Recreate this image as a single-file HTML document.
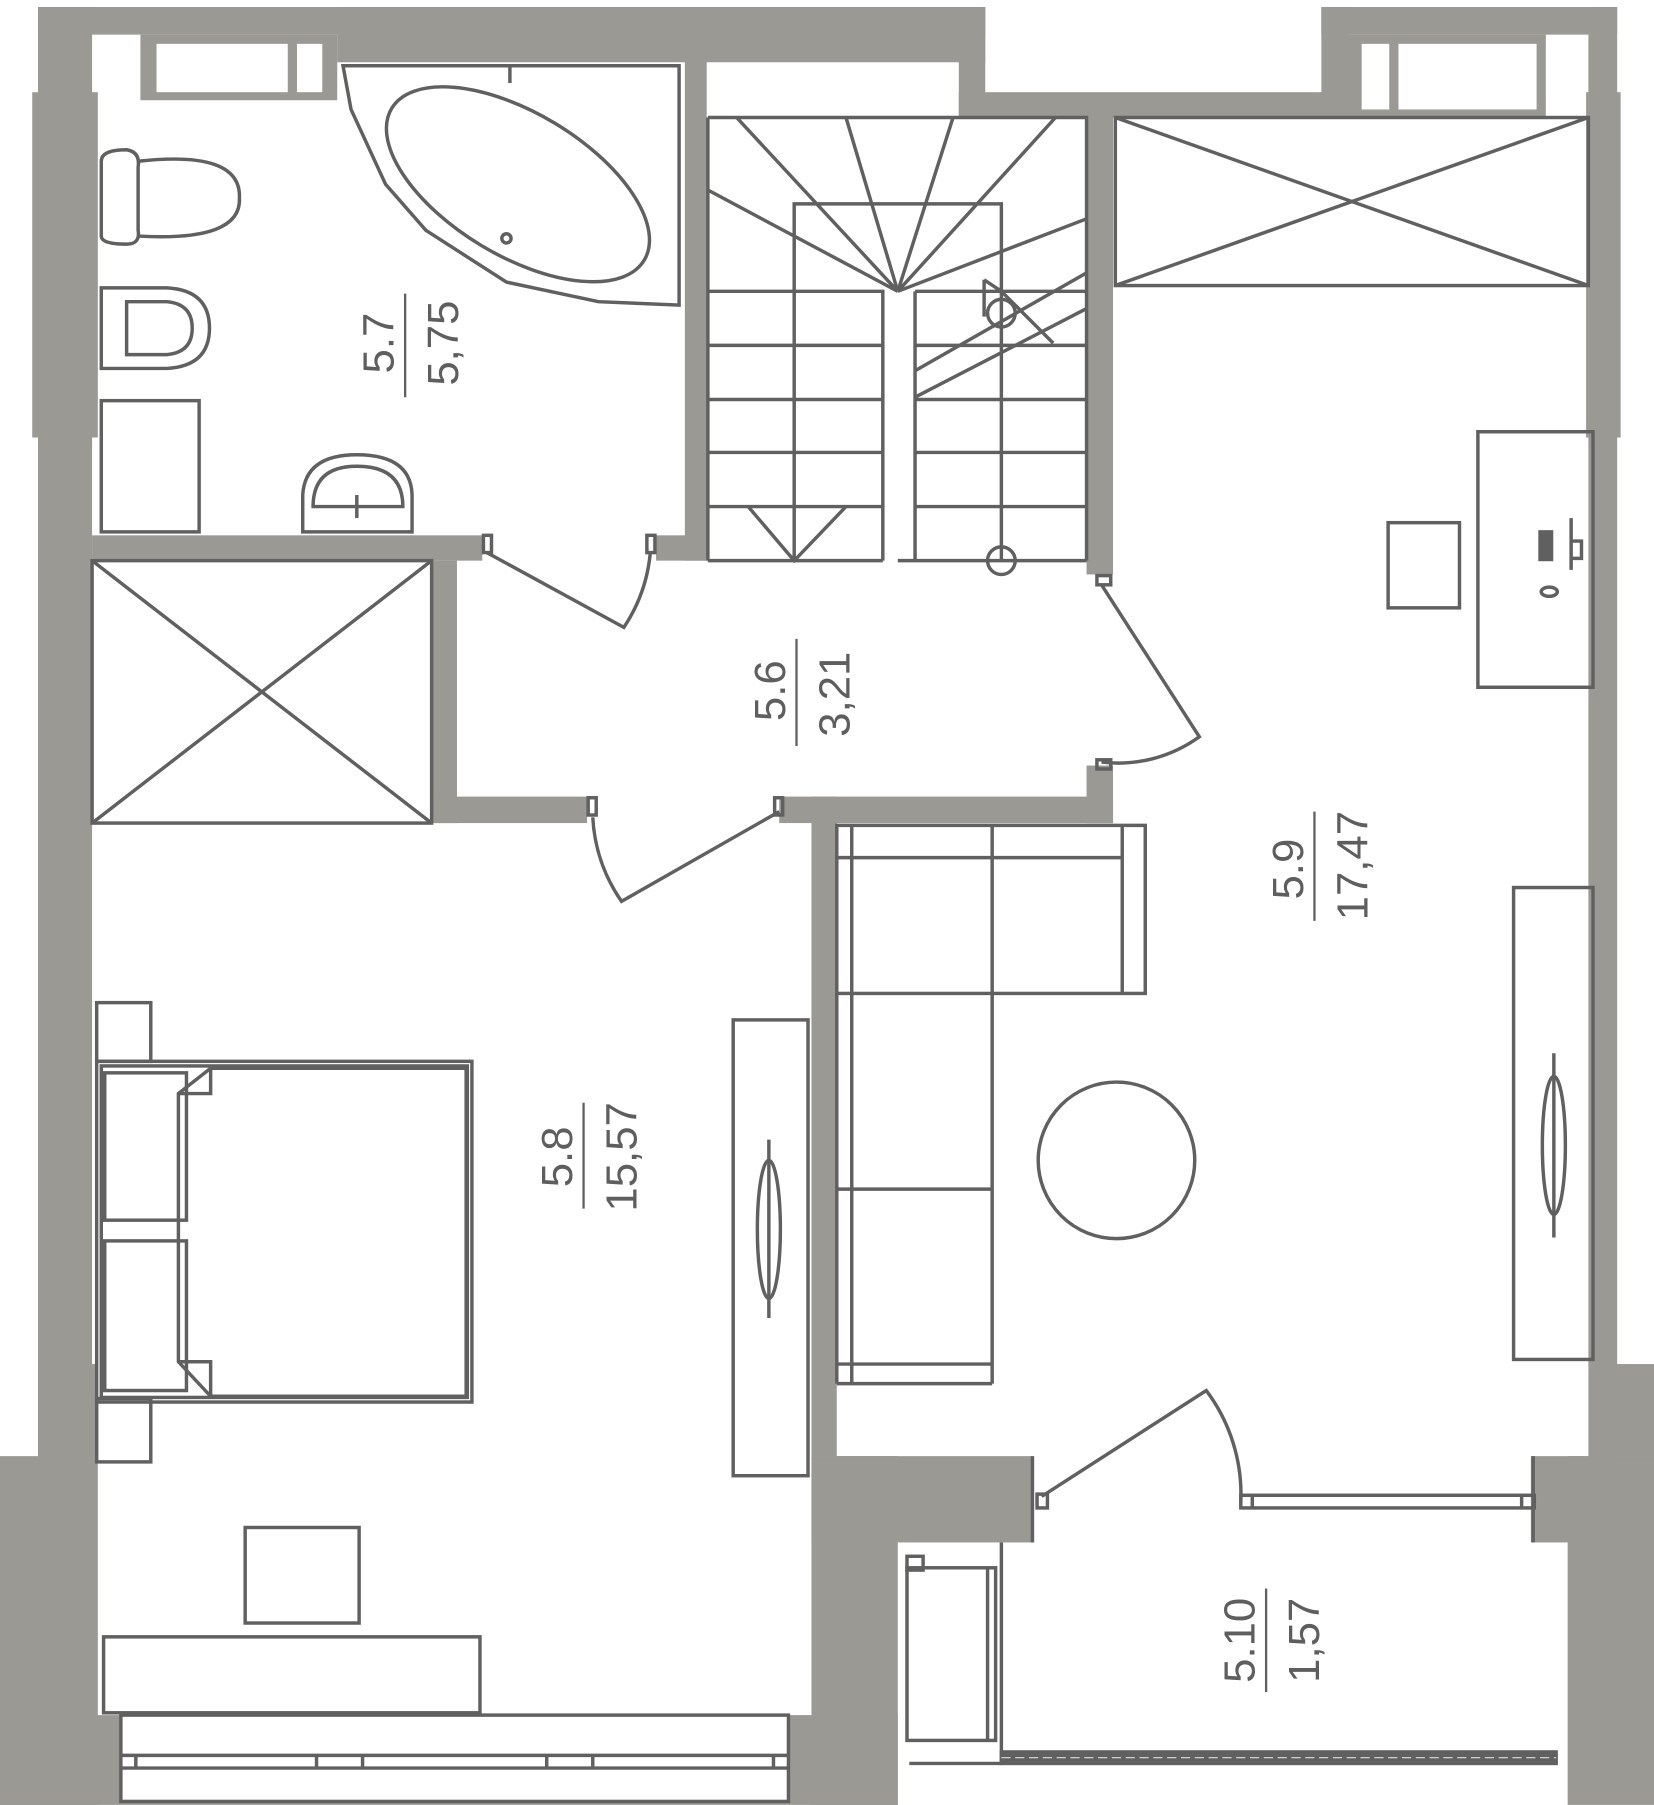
<!DOCTYPE html>
<html><head><meta charset="utf-8"><style>
html,body{margin:0;padding:0;background:#fff}
svg{display:block}
text{font-family:"Liberation Sans",sans-serif;fill:#5e5e5e;font-size:38px}
</style></head><body>
<svg width="1654" height="1805" viewBox="0 0 1437 1568" xmlns="http://www.w3.org/2000/svg">
<g fill="#9a9994">
<rect x="33" y="6" width="823" height="24"/>
<rect x="293" y="6" width="563" height="48"/>
<rect x="833" y="6" width="23" height="96"/>
<rect x="833" y="80" width="339" height="22"/>
<rect x="1148" y="6" width="257" height="24"/>
<rect x="1148" y="6" width="24" height="96"/>
<rect x="1380" y="6" width="25" height="1260"/>
<rect x="1378" y="80" width="30" height="300"/>
<rect x="1382" y="1185" width="55" height="80"/>
<rect x="1330" y="1265" width="107" height="75"/>
<rect x="1362" y="1265" width="75" height="303"/>
<rect x="33" y="6" width="47" height="1562"/>
<rect x="28" y="80" width="57" height="300"/>
<rect x="33" y="1185" width="52" height="383"/>
<rect x="0" y="1265" width="33" height="303"/>
<rect x="0" y="1490" width="780" height="78"/>
<rect x="595" y="30" width="19" height="457"/>
<rect x="80" y="465" width="339" height="22"/>
<rect x="570" y="465" width="44" height="22"/>
<rect x="375" y="487" width="22" height="228"/>
<rect x="375" y="692" width="135" height="23"/>
<rect x="677" y="692" width="290" height="23"/>
<rect x="944" y="102" width="23" height="397"/>
<rect x="944" y="665" width="23" height="50"/>
<rect x="705" y="692" width="22" height="573"/>
<rect x="705" y="1265" width="192" height="75"/>
<rect x="705" y="1265" width="75" height="303"/>
<!-- window frames -->
<rect x="122" y="30" width="171" height="57"/>
<rect x="1170" y="30" width="173" height="73"/>
</g>
<!-- windows -->
<rect x="136" y="38" width="114" height="42" fill="#fff"/>
<rect x="258" y="38" width="22" height="42" fill="#fff"/>
<rect x="1183" y="38" width="24" height="57" fill="#fff"/>
<rect x="1215" y="38" width="120" height="57" fill="#fff"/>
<g fill="none" stroke="#606060" stroke-width="3">
<!-- bottom window -->
<rect x="105" y="1490" width="580" height="75" fill="#fff"/>
<line x1="105" y1="1525" x2="685" y2="1525"/><line x1="105" y1="1536" x2="685" y2="1536"/>
<path d="M118 1525v11M275 1525v11M315 1525v11M475 1525v11M515 1525v11M672 1525v11"/>
<!-- bathroom -->
<path d="M298 57H590V265L520 262L440 245L370 200L335 160L305 95Z"/>
<ellipse cx="450" cy="160" rx="128" ry="62" transform="rotate(31 450 160)"/>
<circle cx="440" cy="207" r="4"/>
<path d="M443 57v15"/>
<path d="M120 140Q210 130 208 172Q210 210 120 205"/><path d="M88 140Q88 130 110 130Q122 132 120 145V200Q122 212 110 212Q88 212 88 205Z"/>
<path d="M88 250H145Q182 252 182 285Q182 318 145 320H88Z"/><path d="M110 262H145Q167 264 167 285Q167 306 145 308H110Z"/>
<rect x="88" y="348" width="85" height="114"/>
<path d="M263 462V430Q265 395 310 395Q357 395 358 430V462Z"/><path d="M272 440Q272 405 310 405Q350 405 350 440Z"/>
<path d="M310 430v20"/>
<!-- shower box -->
<rect x="80" y="487" width="295" height="228"/><path d="M80 487L375 715M375 487L80 715"/>
<!-- stairs -->
<path d="M615 102H944V487M615 102V487"/>
<path d="M615 253H767V487M615 300H767M615 347H767M615 393H767M615 440H767M615 487H767"/>
<path d="M795 253H944M795 253V487M795 300H944M795 347H944M795 393H944M795 440H944M780 487H944"/>
<path d="M690 253V177H870V487M690 253V487"/>
<path d="M780 253L640 102M780 253L735 102M780 253L828 102M780 253L917 102M780 253L944 190M780 253L615 165"/>
<path d="M944 237L795 322M944 268L795 345M870 253L915 298M855 243V275M855 243L870 253"/>
<path d="M650 440L690 487L735 440"/>
<circle cx="870" cy="272" r="12"/><circle cx="870" cy="487" r="12"/>
<!-- X box right -->
<rect x="969" y="102" width="411" height="146"/><path d="M969 102L1380 248M969 248L1380 102"/>
<!-- desk -->
<rect x="1284" y="375" width="100" height="222"/><rect x="1206" y="454" width="62" height="74"/>
<rect x="1338" y="462" width="10" height="24" fill="#606060"/><path d="M1365 450v45M1365 470h9v15h-9"/><ellipse cx="1346" cy="514" rx="7" ry="4"/>
<!-- doors -->
<path d="M423 480L542 545A140 140 0 0 0 565 480"/><rect x="420" y="465" width="7" height="15"/><rect x="562" y="465" width="7" height="15"/>
<path d="M515 710A140 140 0 0 0 540 783L677 705"/><rect x="511" y="693" width="7" height="15"/><rect x="673" y="693" width="7" height="15"/>
<path d="M957 508L1042 640A120 120 0 0 1 957 662"/><rect x="953" y="500" width="12" height="8"/><rect x="953" y="660" width="12" height="8"/>
<path d="M905 1300L1048 1208A150 150 0 0 1 1078 1305"/><rect x="901" y="1298" width="9" height="12"/>
<rect x="1078" y="1299" width="255" height="11"/><path d="M1088 1299v11M1322 1299v11M897 1265v75M1332 1265v75"/>
<!-- sofa -->
<rect x="727" y="717" width="268" height="146"/>
<path d="M740 717V1202M862 717V1202M727 745H975V863M975 717V863M727 1033H862M727 1185H862M727 1202H862M727 863V1202"/>
<circle cx="970" cy="1008" r="68"/>
<!-- wardrobes -->
<rect x="1315" y="771" width="69" height="410"/><ellipse cx="1350" cy="995" rx="10" ry="60"/><path d="M1350 915V1075"/>
<rect x="637" y="886" width="65" height="396"/><ellipse cx="668" cy="1068" rx="10" ry="60"/><path d="M668 990V1145"/>
<!-- bed -->
<rect x="84" y="871" width="47" height="51"/><rect x="84" y="1215" width="47" height="55"/>
<rect x="84" y="922" width="326" height="296"/><rect x="88" y="926" width="318" height="288"/>
<rect x="91" y="932" width="71" height="128"/><rect x="91" y="1078" width="71" height="130"/>
<path d="M183 928H405V1213H183L155 1183V950Z"/><path d="M155 950H183V928M155 1183H183V1213" />
<!-- bedroom desk -->
<rect x="213" y="1327" width="99" height="83"/><rect x="90" y="1422" width="327" height="66"/>
<!-- 5.10 -->
<path d="M870 1340V1532"/>
<rect x="788" y="1362" width="77" height="150"/><rect x="788" y="1352" width="14" height="12"/><path d="M858 1362V1512"/>
<rect x="870" y="1522" width="482" height="10" fill="#606060"/>
<path d="M870 1527H1352" stroke="#ddd" stroke-dasharray="8 4" stroke-width="1"/>
<path d="M790 1532H870"/>
<!-- label lines -->
<path d="M352 255V345M692 555V648M1142 705V800M507 958V1050M1100 1380V1470" stroke-width="2"/>
</g>
<text transform="translate(342 298) rotate(-90)" text-anchor="middle">5.7</text>
<text transform="translate(398 298) rotate(-90)" text-anchor="middle">5,75</text>
<text transform="translate(682 600) rotate(-90)" text-anchor="middle">5.6</text>
<text transform="translate(738 603) rotate(-90)" text-anchor="middle">3,21</text>
<text transform="translate(1132 755) rotate(-90)" text-anchor="middle">5.9</text>
<text transform="translate(1188 752) rotate(-90)" text-anchor="middle">17,47</text>
<text transform="translate(497 1005) rotate(-90)" text-anchor="middle">5.8</text>
<text transform="translate(553 1005) rotate(-90)" text-anchor="middle">15,57</text>
<text transform="translate(1090 1425) rotate(-90)" text-anchor="middle">5.10</text>
<text transform="translate(1146 1425) rotate(-90)" text-anchor="middle">1,57</text>
</svg>
</body></html>
